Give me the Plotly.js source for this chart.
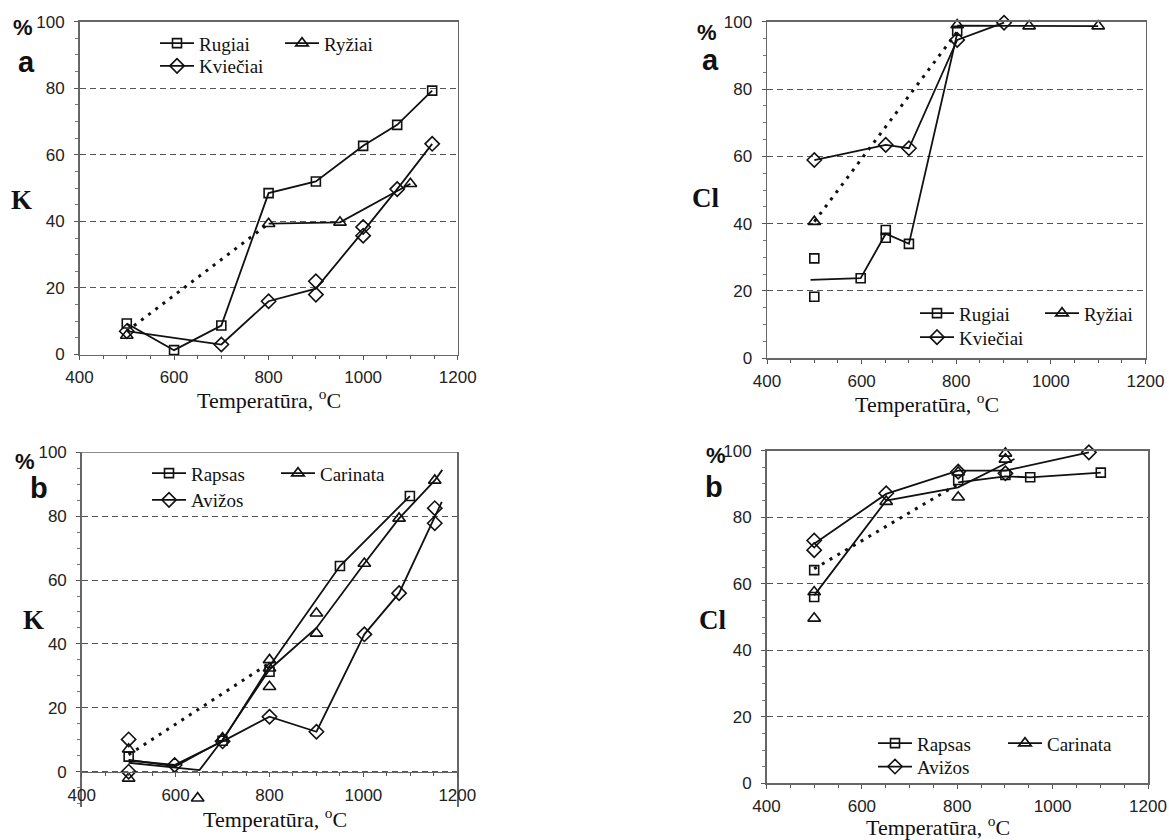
<!DOCTYPE html>
<html>
<head>
<meta charset="utf-8">
<script src="https://cdn.plot.ly/plotly-3.0.1.min.js"></script>
<style>
html,body{margin:0;padding:0;background:#fff;}
#chart{width:1169px;height:840px;}
</style>
</head>
<body>
<div id="chart"></div>
<script>
// ---------- Panel (a) K ----------
const kaRugiaiX = [500, 600, 700, 800, 900, 1000, 1072, 1146];
const kaRugiaiY = [9.3, 1.3, 8.7, 48.5, 52, 62.7, 69, 79.3];
const kaRyziaiX = [500, 800, 951, 1100];
const kaRyziaiY = [5.7, 39.3, 39.7, 51.3];
const kaRyziaiLineX = [800, 951, 1100];
const kaRyziaiLineY = [39.3, 39.7, 51.3];
const kaRyziaiDotX = [500, 800];
const kaRyziaiDotY = [7, 39.3];
const kaKvieciaiX = [500, 700, 800, 900, 900, 1000, 1000, 1072, 1146];
const kaKvieciaiY = [7, 3, 16, 22, 18, 38.3, 35.7, 49.7, 63.3];
const kaKvieciaiLineX = [500, 700, 800, 900, 1000, 1072, 1146];
const kaKvieciaiLineY = [7, 3, 16, 19.8, 37, 49.7, 63.3];

// ---------- Panel (a) Cl ----------
const caRugiaiX = [500, 500, 598, 651, 651, 700, 802];
const caRugiaiY = [29.7, 18.3, 23.8, 38.1, 35.8, 34, 97.3];
const caRugiaiLineX = [492, 598, 651, 700, 802];
const caRugiaiLineY = [23.3, 23.8, 37, 34, 96.5];
const caRyziaiX = [500, 802, 954, 1100];
const caRyziaiY = [40.6, 99, 98.7, 98.7];
const caRyziaiLineX = [802, 954, 1100];
const caRyziaiLineY = [98.8, 98.7, 98.7];
const caRyziaiDotX = [500, 802];
const caRyziaiDotY = [40.6, 97];
const caKvieciaiX = [500, 651, 700, 802, 901];
const caKvieciaiY = [58.9, 63.4, 62.4, 94.6, 99.7];

// ---------- Panel (b) K ----------
const kbRapsasX = [500, 700, 800, 950, 1099];
const kbRapsasY = [4.7, 9.7, 31.3, 64.4, 86.3];
const kbRapsasLineX = [500, 600, 700, 800, 950, 1099];
const kbRapsasLineY = [3.7, 1.7, 9.7, 33, 64.4, 86.3];
const kbCarinataX = [500, 500, 647, 700, 800, 800, 800, 900, 900, 1002, 1076, 1152];
const kbCarinataY = [7, -2.1, -8.3, 10.5, 35, 32.4, 26.6, 49.6, 43.3, 65.2, 79.3, 91.2];
const kbCarinataLineX = [500, 651, 700, 800, 900, 1002, 1076, 1152, 1168];
const kbCarinataLineY = [2.8, 0.5, 10, 32, 45, 65.2, 79.3, 91.2, 94.5];
const kbCarinataDotX = [500, 800];
const kbCarinataDotY = [5.3, 34];
const kbAvizosX = [500, 500, 598, 700, 800, 900, 1002, 1076, 1152, 1152];
const kbAvizosY = [10.1, 0, 2.1, 9.5, 17.2, 12.5, 43, 55.9, 82.5, 77.8];
const kbAvizosLineX = [500, 598, 700, 800, 900, 1002, 1076, 1167];
const kbAvizosLineY = [3.5, 2.1, 9.5, 17.2, 12.5, 43, 55.9, 84.5];

// ---------- Panel (b) Cl ----------
const cbRapsasX = [500, 500, 802, 901, 953, 1101];
const cbRapsasY = [64.1, 56, 91.2, 92.7, 92, 93.4];
const cbRapsasLineX = [802, 901, 953, 1101];
const cbRapsasLineY = [90.5, 92.3, 92, 93.4];
const cbRapsasDotX = [500, 802];
const cbRapsasDotY = [64.5, 90];
const cbCarinataX = [500, 500, 651, 802, 802, 901, 901];
const cbCarinataY = [57.5, 49.6, 84.7, 86, 93.5, 99.2, 97.4];
const cbCarinataLineX = [500, 651, 802, 920];
const cbCarinataLineY = [56.5, 85, 89, 97.5];
const cbAvizosX = [500, 500, 651, 802, 901, 1076];
const cbAvizosY = [73, 70.1, 87.2, 93.7, 93.2, 99.5];
const cbAvizosLineX = [500, 651, 802, 901, 1076];
const cbAvizosLineY = [72, 87, 94, 94, 99.5];

const namesA = ['Rugiai', 'Ryžiai', 'Kviečiai'];
const namesB = ['Rapsas', 'Carinata', 'Avižos'];
const xTicks = [400, 600, 800, 1000, 1200];
const yTicks = [0, 20, 40, 60, 80, 100];
const xTitle = 'Temperatūra, <sup>o</sup>C';

const W = 1169, H = 840;
const px = v => v / W;
const py = v => 1 - v / H;

const SYM = {sq: 'square-open', tri: 'triangle-up-open', dia: 'diamond-open'};
const MSIZE = {sq: 9, tri: 11, dia: 11};
const LINEW = 1.8;
const traces = [];

function addSeries(ax, legendId, name, sym, mx, my, lx, ly, dx, dy) {
  const xa = 'x' + ax, ya = 'y' + ax;
  if (lx) traces.push({x: lx, y: ly, xaxis: xa, yaxis: ya, mode: 'lines', showlegend: false,
    line: {color: '#111', width: LINEW}, hoverinfo: 'skip', cliponaxis: false});
  if (dx) traces.push({x: dx, y: dy, xaxis: xa, yaxis: ya, mode: 'lines', showlegend: false,
    line: {color: '#111', width: 3, dash: '3px,6px'}, hoverinfo: 'skip'});
  traces.push({x: mx, y: my, xaxis: xa, yaxis: ya, mode: 'markers', showlegend: false, cliponaxis: false,
    marker: {symbol: SYM[sym], size: MSIZE[sym], color: '#111', line: {width: 1.6, color: '#111'}}});
  traces.push({x: [null], y: [null], xaxis: xa, yaxis: ya, mode: 'lines+markers', name: name,
    showlegend: true, legend: legendId,
    line: {color: '#111', width: LINEW},
    marker: {symbol: SYM[sym], size: MSIZE[sym], color: '#111', line: {width: 1.6, color: '#111'}}});
}

// panel TL (a, K)
addSeries('', 'legend', namesA[0], 'sq', kaRugiaiX, kaRugiaiY, kaRugiaiX, kaRugiaiY, null, null);
addSeries('', 'legend2', namesA[1], 'tri', kaRyziaiX, kaRyziaiY, kaRyziaiLineX, kaRyziaiLineY, kaRyziaiDotX, kaRyziaiDotY);
addSeries('', 'legend3', namesA[2], 'dia', kaKvieciaiX, kaKvieciaiY, kaKvieciaiLineX, kaKvieciaiLineY, null, null);
// panel TR (a, Cl)
addSeries('2', 'legend4', namesA[0], 'sq', caRugiaiX, caRugiaiY, caRugiaiLineX, caRugiaiLineY, null, null);
addSeries('2', 'legend5', namesA[1], 'tri', caRyziaiX, caRyziaiY, caRyziaiLineX, caRyziaiLineY, caRyziaiDotX, caRyziaiDotY);
addSeries('2', 'legend6', namesA[2], 'dia', caKvieciaiX, caKvieciaiY, caKvieciaiX, caKvieciaiY, null, null);
// panel BL (b, K)
addSeries('3', 'legend7', namesB[0], 'sq', kbRapsasX, kbRapsasY, kbRapsasLineX, kbRapsasLineY, null, null);
addSeries('3', 'legend8', namesB[1], 'tri', kbCarinataX, kbCarinataY, kbCarinataLineX, kbCarinataLineY, kbCarinataDotX, kbCarinataDotY);
addSeries('3', 'legend9', namesB[2], 'dia', kbAvizosX, kbAvizosY, kbAvizosLineX, kbAvizosLineY, null, null);
// panel BR (b, Cl)
addSeries('4', 'legend10', namesB[0], 'sq', cbRapsasX, cbRapsasY, cbRapsasLineX, cbRapsasLineY, cbRapsasDotX, cbRapsasDotY);
addSeries('4', 'legend11', namesB[1], 'tri', cbCarinataX, cbCarinataY, cbCarinataLineX, cbCarinataLineY, null, null);
addSeries('4', 'legend12', namesB[2], 'dia', cbAvizosX, cbAvizosY, cbAvizosLineX, cbAvizosLineY, null, null);

const tickFont = {family: 'Liberation Sans, Arial, sans-serif', size: 17, color: '#222'};
function xAxis(domain, anchor, extra) {
  return Object.assign({
    domain: domain, anchor: anchor, range: [400, 1200], tickmode: 'array', tickvals: xTicks,
    ticks: 'outside', ticklen: 4, tickcolor: '#555', tickwidth: 1,
    showline: true, linecolor: '#666', linewidth: 1.5, mirror: true,
    showgrid: false, zeroline: false, tickfont: tickFont, ticklabelstandoff: 3,
    minor: {dtick: 50, tick0: 400, ticks: 'outside', ticklen: 3, tickcolor: '#555', showgrid: false},
    fixedrange: true
  }, extra || {});
}
function yAxis(domain, anchor, range) {
  return {
    domain: domain, anchor: anchor, range: range, tickmode: 'array', tickvals: yTicks,
    ticks: 'outside', ticklen: 4, tickcolor: '#555', tickwidth: 1,
    showline: true, linecolor: '#666', linewidth: 1.5, mirror: true,
    showgrid: true, gridcolor: '#555', gridwidth: 1, griddash: '6px,4px',
    zeroline: false, tickfont: tickFont, ticklabelstandoff: 6,
    minor: {dtick: 5, tick0: 0, ticks: 'outside', ticklen: 3, tickcolor: '#777', showgrid: false},
    fixedrange: true
  };
}

const legFont = {family: 'Liberation Serif, Times New Roman, serif', size: 19, color: '#111'};
// x = start of the legend line, y = row centre (pixels)
function leg(x, y) {
  return {x: px(x - 5), y: py(y), xanchor: 'left', yanchor: 'middle', orientation: 'v',
    bgcolor: 'rgba(0,0,0,0)', borderwidth: 0, font: Object.assign({}, legFont),
    itemwidth: 34, itemclick: false, tracegroupgap: 0};
}

function ann(text, x, y, font) {
  return {text: text, x: px(x), y: py(y), xref: 'paper', yref: 'paper', showarrow: false,
    xanchor: 'center', yanchor: 'middle', font: font};
}
const pctFont = {family: 'Liberation Sans, Arial, sans-serif', size: 22, color: '#111', weight: 'bold'};
const letFont = {family: 'Liberation Sans, Arial, sans-serif', size: 29, color: '#111', weight: 'bold'};
const elFont = {family: 'Liberation Serif, Times New Roman, serif', size: 27, color: '#111', weight: 'bold'};
const titFont = {family: 'Liberation Serif, Times New Roman, serif', size: 22, color: '#111'};

const layout = {
  width: W, height: H,
  margin: {l: 0, r: 0, t: 0, b: 0},
  paper_bgcolor: '#fff', plot_bgcolor: '#fff',
  font: {family: 'Liberation Serif, Times New Roman, serif', size: 19, color: '#111'},
  showlegend: true,
  xaxis: xAxis([px(79.5), px(457.7)], 'y'),
  yaxis: yAxis([py(354.5), py(21.7)], 'x', [0, 100]),
  xaxis2: xAxis([px(767), px(1145.5)], 'y2'),
  yaxis2: yAxis([py(358.3), py(21.7)], 'x2', [0, 100]),
  xaxis3: xAxis([px(81.7), px(457.3)], 'free', {position: py(771.7), mirror: false}),
  yaxis3: yAxis([py(806.8), py(452.3)], 'x3', [-11, 100]),
  xaxis4: xAxis([px(766.5), px(1148)], 'y4'),
  yaxis4: yAxis([py(783.3), py(450.7)], 'x4', [0, 100]),
  legend: leg(160, 43.3),
  legend2: leg(285, 43.3),
  legend3: leg(160, 66),
  legend4: leg(920, 313.3),
  legend5: leg(1045, 313.3),
  legend6: leg(920, 337.3),
  legend7: leg(152, 473.3),
  legend8: leg(281, 473.3),
  legend9: leg(152, 500),
  legend10: leg(878, 743.3),
  legend11: leg(1008, 743.3),
  legend12: leg(878, 766.7),
  shapes: [
    {type: 'line', xref: 'x3 domain', yref: 'y3', x0: 0, x1: 1, y0: 100, y1: 100,
      line: {color: '#666', width: 1.5}}
  ],
  annotations: [
    ann('%', 23.3, 27.3, pctFont), ann('a', 26.7, 61.7, letFont), ann('K', 21.7, 200, elFont),
    ann('%', 707, 33, pctFont), ann('a', 710, 60, letFont), ann('Cl', 705, 198.3, elFont),
    ann('%', 25, 461.7, pctFont), ann('b', 39.3, 488.3, letFont), ann('K', 33.3, 620, elFont),
    ann('%', 716, 456, pctFont), ann('b', 714, 487, letFont), ann('Cl', 712, 620, elFont),
    ann(xTitle, 268.6, 399, titFont), ann(xTitle, 927, 403, titFont),
    ann(xTitle, 275, 818, titFont), ann(xTitle, 938, 826, titFont)
  ]
};

Plotly.newPlot('chart', traces, layout, {staticPlot: true, displayModeBar: false});
</script>
</body>
</html>
